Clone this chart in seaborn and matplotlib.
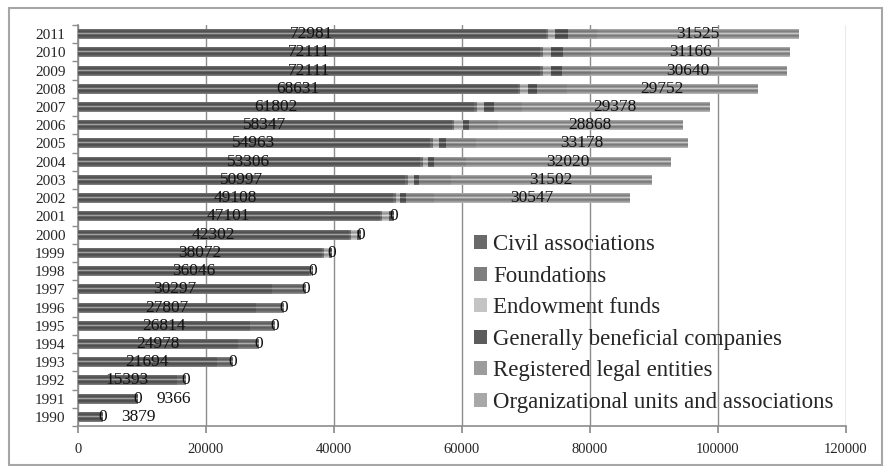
import numpy as np
import pandas as pd
import matplotlib
matplotlib.use("Agg")
import matplotlib.pyplot as plt
from matplotlib.patches import Patch, Rectangle
from matplotlib.colors import to_rgb
import seaborn as sns

# values (1990 -> 2011)
years = [str(y) for y in range(1990, 2012)]
civil_associations = [3879, 9366, 15393, 21694, 24978, 26814, 27807, 30297, 36046, 38072, 42302,
                      47101, 49108, 50997, 53306, 54963, 58347, 61802, 68631, 72111, 72111, 72981]
foundations = [0, 0, 1400, 2500, 3200, 3900, 4300, 5200, 250, 300, 300,
               350, 500, 450, 450, 450, 400, 400, 400, 400, 400, 450]
endowment_funds = [0, 0, 0, 0, 0, 0, 0, 0, 200, 800, 900,
                   1000, 600, 900, 900, 900, 1400, 1100, 1250, 1250, 1250, 1100]
beneficial_companies = [0, 0, 0, 0, 0, 0, 0, 100, 150, 500, 700,
                        800, 900, 800, 900, 1100, 900, 1550, 1400, 1750, 1900, 2000]
registered_entities = [0] * 12 + [4500, 5000, 5000, 4700, 4500, 4400, 4700, 4500, 4400, 4500]
org_units = [0] * 12 + [30547, 31502, 32020, 33178, 28868, 29378, 29752, 30640, 31166, 31525]

series_names = ["Civil associations", "Foundations", "Endowment funds",
                "Generally beneficial companies", "Registered legal entities",
                "Organizational units and associations"]
series_colors = ["#6a6a6a", "#7e7e7e", "#c4c4c4", "#5c5c5c", "#9c9c9c", "#a8a8a8"]

df = pd.DataFrame({
    "year": years,
    series_names[0]: civil_associations,
    series_names[1]: foundations,
    series_names[2]: endowment_funds,
    series_names[3]: beneficial_companies,
    series_names[4]: registered_entities,
    series_names[5]: org_units,
})
order = years[::-1]  # 2011 on top
df = df.set_index("year").loc[order]
cum = df[series_names].cumsum(axis=1)


def shade_profile(rgb, n=48):
    """Vertical 'cylinder' shading like the old Excel bars."""
    t = np.linspace(0, 1, n)
    m = np.interp(t, [0, .2, .38, .5, .62, .8, 1], [1.3, .85, .7, 1.6, .7, .8, 1.2])
    rgb = np.array(rgb)
    dark = rgb[None, :] * np.minimum(m, 1)[:, None]
    light = rgb[None, :] + (1 - rgb[None, :]) * (np.maximum(m, 1) - 1)[:, None]
    out = np.where((m > 1)[:, None], light, dark)
    return np.clip(out, 0, 1)[:, None, :]


sns.set_theme(style="white")
plt.rcParams["font.family"] = ["Liberation Serif", "DejaVu Serif"]

fig = plt.figure(figsize=(8.85, 4.66), dpi=100)
ax = fig.add_axes([78 / 885, 1 - 426 / 466, (846 - 78) / 885, (426 - 25) / 466])

# stacked bars: draw cumulative totals from the longest to the shortest
groups = []
for j, name in enumerate(series_names[::-1]):
    k = series_names.index(name)
    start = len(ax.patches)
    sns.barplot(x=cum[name].values, y=order, order=order, orient="h",
                color=series_colors[k], saturation=1, width=0.55,
                errorbar=None, linewidth=0, ax=ax)
    groups.append((j, k, ax.patches[start:]))

for j, k, patches in groups:
    prof = shade_profile(to_rgb(series_colors[k]))
    for p in patches:
        p.set_zorder(2 + j)
        x0, y0 = p.get_x(), p.get_y()
        w, h = p.get_width(), p.get_height()
        if w <= 0:
            continue
        im = ax.imshow(prof, extent=(x0, x0 + w, y0 + h, y0), aspect="auto",
                       interpolation="bilinear", zorder=2 + j + 0.5)
        im.set_clip_path(p)

ax.set_xlim(0, 120000)
ax.set_ylim(len(order) - 0.5, -0.5)

# data labels for first and last series
for i, yr in enumerate(order):
    civ = df.loc[yr, series_names[0]]
    org = df.loc[yr, series_names[5]]
    total = cum.loc[yr, series_names[5]]
    ax.text(total - org / 2, i, f"{org}", ha="center", va="center",
            fontsize=12.5, color="#111111", zorder=20)
    if org == 0 and civ < 10000:
        ax.annotate(f"{civ}", (total, i), xytext=(26, 0), textcoords="offset points",
                    ha="center", va="center", fontsize=12.5, color="#111111", zorder=20)
    else:
        ax.text(civ / 2, i, f"{civ}", ha="center", va="center",
                fontsize=12.5, color="#111111", zorder=20)

ax.set_xticks(range(0, 120001, 20000))
ax.set_xticklabels([str(v) for v in range(0, 120001, 20000)], fontsize=10.5)
ax.set_yticks(range(len(order)))
ax.set_yticklabels(order, fontsize=11)
ax.set_yticks(np.arange(-0.5, len(order), 1), minor=True)
ax.tick_params(axis="y", which="major", length=0, pad=9)
ax.tick_params(axis="y", which="minor", length=4, color="#8c8c8c", left=True)
ax.tick_params(axis="x", length=5, color="#8c8c8c", pad=7, bottom=True)
ax.xaxis.grid(True, color="#8c8c8c", linewidth=1)
ax.yaxis.grid(False)
ax.set_axisbelow(True)
for side in ["top", "right"]:
    ax.spines[side].set_visible(False)
for side in ["left", "bottom"]:
    ax.spines[side].set_color("#8c8c8c")
    ax.spines[side].set_linewidth(1.2)
ax.set_xlabel("")
ax.set_ylabel("")

handles = [Patch(facecolor=c, edgecolor="none") for c in series_colors]
ax.legend(handles, series_names, loc="upper left", bbox_to_anchor=(0.516, 0.478),
          frameon=False, fontsize=16.5, handlelength=0.55, handleheight=0.55,
          handletextpad=0.28, labelspacing=0.46, borderaxespad=0, borderpad=0)

fig.add_artist(Rectangle((9 / 885, 1 / 466), (882 - 9) / 885, (458 - 1) / 466,
                         transform=fig.transFigure, fill=False,
                         edgecolor="#a6a6a6", linewidth=1.5))

fig.savefig("out.png", dpi=100)
plt.close(fig)
